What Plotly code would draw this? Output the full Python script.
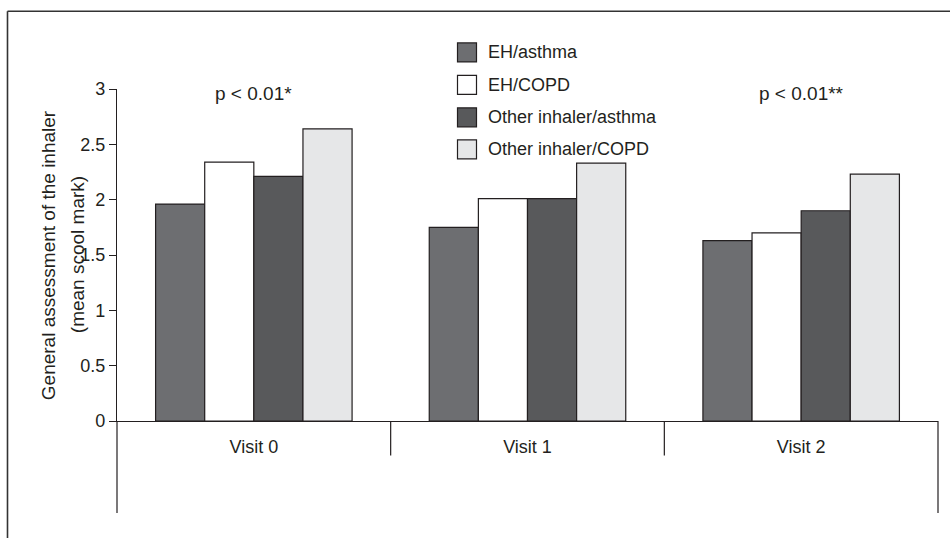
import plotly.graph_objects as go

categories = ["Visit 0", "Visit 1", "Visit 2"]
series_names = ["EH/asthma", "EH/COPD", "Other inhaler/asthma", "Other inhaler/COPD"]
eh_asthma = [1.96, 1.75, 1.63]
eh_copd = [2.34, 2.01, 1.70]
other_asthma = [2.21, 2.01, 1.90]
other_copd = [2.64, 2.33, 2.23]
y_ticks = [0, 0.5, 1, 1.5, 2, 2.5, 3]
y_tick_labels = ["0", "0.5", "1", "1.5", "2", "2.5", "3"]
annotations_text = ["p < 0.01*", "", "p < 0.01**"]
y_title_lines = ["General assessment of the inhaler", "(mean scool mark)"]

series_values = [eh_asthma, eh_copd, other_asthma, other_copd]
colors = ["#6d6e71", "#ffffff", "#58595b", "#e6e7e8"]

FONT = "Liberation Sans, Arial, sans-serif"
W, H = 950, 538
L, R, T, B = 117, 12, 88.6, 117
PW = W - L - R
PH = H - T - B
LINE = "#231f20"


def px_x(x):
    return (x - L) / PW


def px_y(y):
    return (H - B - y) / PH


fig = go.Figure()
for name, vals, col in zip(series_names, series_values, colors):
    fig.add_trace(go.Bar(
        x=categories, y=vals, name=name,
        marker=dict(color=col, line=dict(color=LINE, width=1.2)),
        showlegend=False,
    ))

shapes = []
# outer frame (top and left)
shapes.append(dict(type="line", xref="paper", yref="paper",
                   x0=px_x(7.5), x1=px_x(952), y0=px_y(10.8), y1=px_y(10.8),
                   line=dict(color="#333333", width=1.6)))
shapes.append(dict(type="line", xref="paper", yref="paper",
                   x0=px_x(7.5), x1=px_x(7.5), y0=px_y(10.8), y1=px_y(540),
                   line=dict(color="#333333", width=1.6)))
# axis extensions below zero
for xx in (0, 1):
    shapes.append(dict(type="line", xref="x domain", yref="y domain",
                       x0=xx, x1=xx, y0=0, y1=px_y(513),
                       line=dict(color=LINE, width=1.2)))
for xx in (1 / 3, 2 / 3):
    shapes.append(dict(type="line", xref="x domain", yref="y domain",
                       x0=xx, x1=xx, y0=0, y1=px_y(455.5),
                       line=dict(color=LINE, width=1.2)))

annotations = []
# manual legend
legend_rows = [52, 84.5, 117, 149]
for name, col, ry in zip(series_names, colors, legend_rows):
    shapes.append(dict(type="rect", xref="paper", yref="paper",
                       x0=px_x(457.5), x1=px_x(476.5), y0=px_y(ry - 9.5), y1=px_y(ry + 9.5),
                       fillcolor=col, line=dict(color=LINE, width=1.2)))
    annotations.append(dict(xref="paper", yref="paper", x=px_x(486), y=px_y(ry),
                            text=name, showarrow=False, xanchor="left", yanchor="middle",
                            font=dict(family=FONT, size=18, color="#231f20")))

for cat, txt in zip(categories, annotations_text):
    if txt:
        annotations.append(dict(xref="x", yref="paper", x=cat, y=px_y(93),
                                text=txt, showarrow=False, xanchor="center", yanchor="middle",
                                font=dict(family=FONT, size=19, color="#231f20")))

for line_txt, lx in zip(y_title_lines, (48, 77)):
    annotations.append(dict(xref="paper", yref="paper", x=px_x(lx), y=px_y(255),
                            text=line_txt, showarrow=False, textangle=-90,
                            xanchor="center", yanchor="middle",
                            font=dict(family=FONT, size=19, color="#231f20")))

fig.update_layout(
    width=W, height=H,
    margin=dict(l=L, r=R, t=T, b=B, pad=0),
    paper_bgcolor="white", plot_bgcolor="white",
    barmode="group", bargap=0.282, bargroupgap=0,
    font=dict(family=FONT, size=18, color="#231f20"),
    shapes=shapes, annotations=annotations,
    xaxis=dict(showline=True, linecolor=LINE, linewidth=1.2, ticks="", showgrid=False,
               zeroline=False, ticklabelstandoff=9, tickfont=dict(size=18)),
    yaxis=dict(range=[0, 3], tickvals=y_ticks, ticktext=y_tick_labels,
               showline=True, linecolor=LINE, linewidth=1.2, ticks="outside",
               ticklen=7, tickcolor=LINE, tickwidth=1.2, showgrid=False, zeroline=False,
               tickfont=dict(size=18)),
)

fig.write_html("out.html",
               config={"displayModeBar": False},
               post_script="document.body.style.margin='0';document.body.style.overflow='hidden';")
